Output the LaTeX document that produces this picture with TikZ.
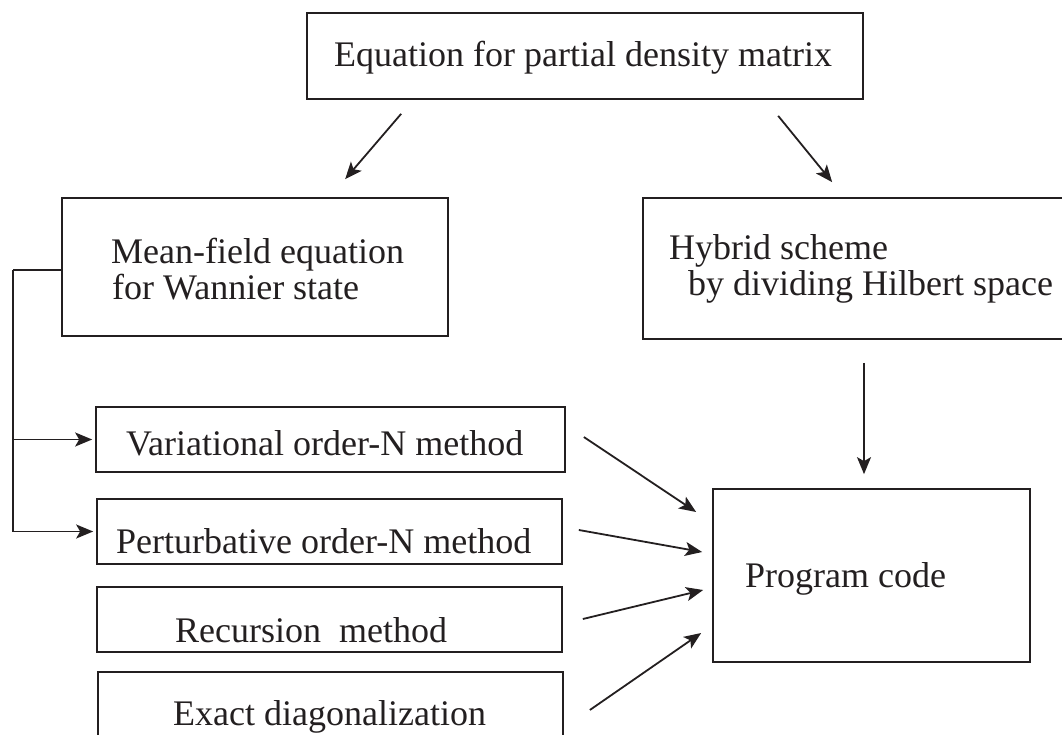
\documentclass[tikz,border=0pt]{standalone}
\usepackage{fontspec}
\setmainfont{Liberation Serif}
\usetikzlibrary{arrows.meta,calc}
\definecolor{ink}{HTML}{231F20}
\begin{document}
\begin{tikzpicture}[x=1pt,y=-1pt,
  box/.style={draw=ink, line width=1.7pt, rectangle, inner sep=0pt},
  txt/.style={inner sep=0pt, anchor=base west, text=ink, font=\fontsize{36}{36}\selectfont},
  conn/.style={draw=ink, line width=1.8pt},
  arr/.style={conn, -{Stealth[length=17pt,width=14pt,inset=4pt]}}]
\useasboundingbox (0,0) rectangle (1062,735);
\clip (0,0) rectangle (1062,735);
% boxes
\node[box, minimum width=556, minimum height=86]  (top)   at (585,56) {};
\node[box, minimum width=386, minimum height=138] (mf)    at (255,267) {};
\node[box, minimum width=432, minimum height=141] (hyb)   at (859,268.5) {};
\node[box, minimum width=469, minimum height=65]  (var)   at (330.5,439.5) {};
\node[box, minimum width=465, minimum height=65]  (pert)  at (329.5,531.5) {};
\node[box, minimum width=465, minimum height=65]  (rec)   at (329.5,619.5) {};
\node[box, minimum width=465, minimum height=65]  (exact) at (330.5,704.5) {};
\node[box, minimum width=317, minimum height=173] (prog)  at (871.5,575.5) {};
% texts
\node[txt] (ttop)  at (334,67)  {Equation for partial density matrix};
\node[txt] (tmf1)  at (111,263) {Mean-field equation};
\node[txt] (tmf2)  at (112,299) {for Wannier state};
\node[txt] (thyb1) at (669,259) {Hybrid scheme};
\node[txt] (thyb2) at (688,295) {by dividing Hilbert space};
\node[txt] (tvar)  at (126,455) {Variational order-N method};
\node[txt] (tpert) at (116,553) {Perturbative order-N method};
\node[txt] (trec)  at (175,642) {Recursion\ \ method};
\node[txt] (texa)  at (173,725) {Exact diagonalization};
\node[txt] (tprog) at (745,587) {Program code};
% connector end points
\coordinate (a1s) at ($(top.south west)+(95,14)$);
\coordinate (a1e) at ($(mf.north west)+(284,-18)$);
\coordinate (a2s) at ($(top.south west)+(472,16)$);
\coordinate (a2e) at ($(hyb.north west)+(190,-15)$);
\coordinate (a3s) at ($(hyb.south)+(5,23)$);
\coordinate (a3e) at ($(prog.north)+(-7.5,-14)$);
\coordinate (br)  at (13,270);
\coordinate (v1) at ($(var.east)+(18,-2.5)$);
\coordinate (v2) at ($(pert.east)+(16,-1.5)$);
\coordinate (v3) at ($(rec.east)+(20,-0.5)$);
\coordinate (v4) at ($(exact.east)+(26,5.5)$);
\coordinate (p1) at ($(prog.west)+(-16,-63.5)$);
\coordinate (p2) at ($(prog.west)+(-10,-23.5)$);
\coordinate (p3) at ($(prog.west)+(-9,14.5)$);
\coordinate (p4) at ($(prog.west)+(-11,57.5)$);
% connectors
\draw[arr] (a1s) -- (a1e);
\draw[arr] (a2s) -- (a2e);
\draw[arr] (a3s) -- (a3e);
\draw[conn] ([yshift=-3pt]mf.west) -- (br);
\draw[arr] (br) |- ([xshift=-3pt]pert.west);
\draw[arr] (br |- var.west) -- ([xshift=-3pt]var.west);
\draw[arr] (v1) -- (p1);
\draw[arr] (v2) -- (p2);
\draw[arr] (v3) -- (p3);
\draw[arr] (v4) -- (p4);
\end{tikzpicture}
\end{document}
